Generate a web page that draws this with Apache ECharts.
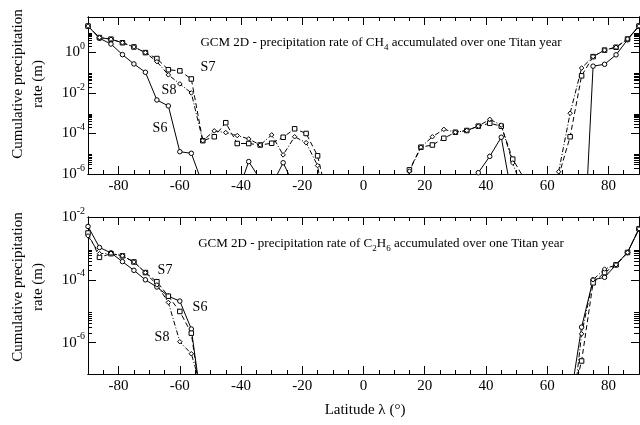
<!DOCTYPE html>
<html>
<head>
<meta charset="utf-8">
<script src="https://cdn.jsdelivr.net/npm/echarts@6/dist/echarts.min.js"></script>
<style>html,body{margin:0;padding:0;background:#fff}#chart{width:640px;height:425px}</style>
</head>
<body>
<div id="chart"></div>
<script>
// latitude grid of the GCM (deg)
var lat = [-90, -86.25, -82.5, -78.75, -75, -71.25, -67.5, -63.75, -60, -56.25,
    -52.5, -48.75, -45, -41.25, -37.5, -33.75, -30, -26.25, -22.5, -18.75,
    -15, -11.25, -7.5, -3.75, 0, 3.75, 7.5, 11.25, 15, 18.75,
    22.5, 26.25, 30, 33.75, 37.5, 41.25, 45, 48.75, 52.5, 56.25,
    60, 63.75, 67.5, 71.25, 75, 78.75, 82.5, 86.25, 90];

// CH4 cumulative precipitation (m), null = no precipitation
var s6Ch4 = [20, 5.0, 2.6, 0.78, 0.27, 0.105, 4.5e-3, 2.3e-3, 1.26e-5, 1.05e-5,
    2.9e-7, null, null, 1e-7, 4.1e-6, 5.4e-7, 2.7e-7, 3.6e-6, 2.3e-7, null,
    null, null, null, null, null, null, null, null, null, null,
    null, null, null, null, 1.16e-6, 7.4e-6, 6.5e-5, 4.7e-8, null, null,
    null, null, null, 1e-12, 0.21, 0.26, 0.76, 4.2, 20];
var s7Ch4 = [20, 5.4, 4.5, 3.0, 1.86, 0.98, 0.50, 0.14, 0.123, 0.049,
    4.4e-5, 6.9e-5, 3.4e-4, 3.2e-5, 3.2e-5, 2.7e-5, 3.3e-5, 6.5e-5, 1.7e-4, 1.0e-4,
    7.9e-6, 3e-8, null, null, null, null, null, 1e-9, 1.6e-6, 2.1e-5,
    2.7e-5, 5.8e-5, 1.15e-4, 1.4e-4, 2.3e-4, 3.2e-4, 2.3e-4, 5.4e-6, 5.9e-7, null,
    null, 8e-7, 6.9e-5, 0.07, 0.62, 1.3, 1.8, 4.6, 20];
var s8Ch4 = [20, 5.4, 4.5, 3.0, 1.86, 0.98, 0.35, 0.078, 0.028, 0.010,
    4.4e-5, 1.35e-4, 1.1e-4, 7.9e-5, 5.4e-5, 2.7e-5, 8.5e-5, 8.8e-6, 6.9e-5, 3.5e-5,
    2.6e-6, 1e-9, null, null, null, null, null, 1e-9, 1.4e-6, 2.1e-5,
    6.9e-5, 1.6e-4, 1.15e-4, 1.4e-4, 2.3e-4, 5e-4, 2.6e-4, 3.5e-6, 1e-7, null,
    null, 1.3e-6, 1e-3, 0.17, 0.62, 1.3, 1.8, 4.6, 20];

// C2H6 cumulative precipitation (m)
var s6C2h6 = [5.0e-3, 1.07e-3, 7.2e-4, 3.8e-4, 2.0e-4, 1.0e-4, 5.9e-5, 3.0e-5, 2.1e-5, 2.7e-6,
    5.7e-9, null, null, null, null, null, null, null, null, null,
    null, null, null, null, null, null, null, null, null, null,
    null, null, null, null, null, null, null, null, null, null,
    null, null, 1.4e-8, 3.1e-6, 1.0e-4, 1.2e-4, 3.0e-4, 7.4e-4, 4.2e-3];
var s7C2h6 = [3.1e-3, 5.2e-4, 6.8e-4, 5.8e-4, 3.7e-4, 1.7e-4, 8.7e-5, 3.0e-5, 9.8e-6, 2.0e-6,
    5e-9, null, null, null, null, null, null, null, null, null,
    null, null, null, null, null, null, null, null, null, null,
    null, null, null, null, null, null, null, null, null, null,
    null, null, 8e-9, 2.6e-7, 8e-5, 1.7e-4, 3.0e-4, 7.4e-4, 4.2e-3];
var s8C2h6 = [2.5e-3, 6.8e-4, 7.0e-4, 5.8e-4, 3.7e-4, 1.7e-4, 6.9e-5, 1.9e-5, 1.07e-6, 4.4e-7,
    2.5e-8, null, null, null, null, null, null, null, null, null,
    null, null, null, null, null, null, null, null, null, null,
    null, null, null, null, null, null, null, null, null, null,
    null, null, 1e-9, 1.9e-6, 1.0e-4, 2.2e-4, 3.0e-4, 7.4e-4, 4.2e-3];

// ticks
var latTicks = [-80, -60, -40, -20, 0, 20, 40, 60, 80];
var ch4Ticks = [1e-6, 1e-4, 1e-2, 1];
var c2h6Ticks = [1e-6, 1e-4, 1e-2];
var ch4Minor = [2e-6, 3e-6, 4e-6, 5e-6, 6e-6, 7e-6, 8e-6, 9e-6,
    2e-4, 3e-4, 4e-4, 5e-4, 6e-4, 7e-4, 8e-4, 9e-4,
    2e-2, 3e-2, 4e-2, 5e-2, 6e-2, 7e-2, 8e-2, 9e-2,
    2, 3, 4, 5, 6, 7, 8, 9];
var c2h6Minor = [2e-6, 3e-6, 4e-6, 5e-6, 6e-6, 7e-6, 8e-6, 9e-6,
    2e-4, 3e-4, 4e-4, 5e-4, 6e-4, 7e-4, 8e-4, 9e-4];

var FONT = 'Liberation Serif';
var dom = document.getElementById('chart');
var myChart = echarts.init(dom);

function pairs(vals) {
    return lat.map(function (x, i) { return [x, vals[i]]; });
}

function xAxes(g) {
    var base = {
        gridIndex: g, type: 'value', min: -90, max: 90,
        splitLine: { show: false },
        axisLine: { onZero: false, lineStyle: { color: '#000', width: 1 } },
        axisLabel: { show: false }
    };
    var minorBottom = echarts.util.merge({
        position: 'bottom', interval: 5,
        axisTick: { inside: true, length: 4, lineStyle: { color: '#000' } },
        axisLabel: { show: true, customValues: latTicks, margin: 5, color: '#000',
            fontFamily: FONT, fontSize: 15 }
    }, base);
    var majorBottom = echarts.util.merge({
        position: 'bottom',
        axisTick: { inside: true, length: 8, customValues: latTicks, lineStyle: { color: '#000' } }
    }, base);
    var minorTop = echarts.util.merge({
        position: 'top', interval: 5,
        axisTick: { inside: true, length: 4, lineStyle: { color: '#000' } }
    }, base);
    var majorTop = echarts.util.merge({
        position: 'top',
        axisTick: { inside: true, length: 8, customValues: latTicks, lineStyle: { color: '#000' } }
    }, base);
    return [minorBottom, majorBottom, minorTop, majorTop];
}

function yAxes(g, min, max, ticks, minor) {
    var base = {
        gridIndex: g, type: 'log', logBase: 10, min: min, max: max,
        splitLine: { show: false },
        axisLine: { onZero: false, lineStyle: { color: '#000', width: 1 } },
        axisLabel: { show: false }
    };
    var leftMajor = echarts.util.merge({
        position: 'left',
        axisTick: { inside: true, length: 8, customValues: ticks, lineStyle: { color: '#000' } },
        axisLabel: {
            show: true, customValues: ticks, margin: 3, color: '#000',
            formatter: function (v) {
                return '{b|10}{s|' + Math.round(Math.log10(v)) + '}';
            },
            rich: {
                b: { fontFamily: FONT, fontSize: 15, lineHeight: 22, color: '#000' },
                s: { fontFamily: FONT, fontSize: 10, lineHeight: 10, verticalAlign: 'top', color: '#000' }
            }
        }
    }, base);
    var leftMinor = echarts.util.merge({
        position: 'left',
        axisTick: { inside: true, length: 4, customValues: minor, lineStyle: { color: '#000' } }
    }, base);
    var rightMajor = echarts.util.merge({
        position: 'right',
        axisTick: { inside: true, length: 8, customValues: ticks, lineStyle: { color: '#000' } }
    }, base);
    var rightMinor = echarts.util.merge({
        position: 'right',
        axisTick: { inside: true, length: 5, customValues: minor, lineStyle: { color: '#000' } }
    }, base);
    return [leftMajor, leftMinor, rightMajor, rightMinor];
}

function line(name, vals, g, symbol, dash) {
    return {
        name: name, type: 'line',
        xAxisIndex: g * 4, yAxisIndex: g * 4,
        data: pairs(vals),
        symbol: symbol, symbolSize: 4.5, showSymbol: true,
        connectNulls: false, clip: true,
        lineStyle: { color: '#000', width: 1, type: dash },
        itemStyle: { color: '#fff', borderColor: '#000', borderWidth: 1 }
    };
}

function panelTitle(y, species) {
    return {
        type: 'text', x: 381, y: y,
        style: {
            text: 'GCM 2D - precipitation rate of ' + species + ' accumulated over one Titan year',
            font: '13px "Liberation Serif"', fill: '#000', lineHeight: 19,
            align: 'center', verticalAlign: 'middle',
            rich: {
                sub: { fontFamily: FONT, fontSize: 9, lineHeight: 9, verticalAlign: 'bottom', fill: '#000' }
            }
        }
    };
}

function label(x, y, text) {
    return {
        type: 'text', x: x, y: y,
        style: { text: text, font: '14px "Liberation Serif"', fill: '#000', align: 'center', verticalAlign: 'middle' }
    };
}

function yTitle(y) {
    return {
        type: 'text', x: 28, y: y, rotation: Math.PI / 2,
        style: {
            text: 'Cumulative precipitation\nrate (m)', font: '15px "Liberation Serif"', fill: '#000',
            align: 'center', verticalAlign: 'middle', lineHeight: 20
        }
    };
}

var option = {
    backgroundColor: '#fff',
    animation: false,
    grid: [
        { left: 88, top: 17, width: 551, height: 157 },
        { left: 88, top: 217, width: 551, height: 157 }
    ],
    xAxis: xAxes(0).concat(xAxes(1)),
    yAxis: yAxes(0, 1e-6, 56, ch4Ticks, ch4Minor).concat(yAxes(1, 1e-7, 1e-2, c2h6Ticks, c2h6Minor)),
    series: [
        line('S6', s6Ch4, 0, 'circle', 'solid'),
        line('S7', s7Ch4, 0, 'rect', [5, 3]),
        line('S8', s8Ch4, 0, 'diamond', [5, 2, 1, 2]),
        line('S6', s6C2h6, 1, 'circle', 'solid'),
        line('S7', s7C2h6, 1, 'rect', [5, 3]),
        line('S8', s8C2h6, 1, 'diamond', [5, 2, 1, 2])
    ],
    graphic: [
        panelTitle(43, 'CH{sub|4}'),
        panelTitle(244, 'C{sub|2}H{sub|6}'),
        label(208, 67, 'S7'),
        label(169, 90, 'S8'),
        label(160, 128, 'S6'),
        label(165, 270, 'S7'),
        label(200, 307, 'S6'),
        label(162, 337, 'S8'),
        yTitle(84),
        yTitle(287),
        {
            type: 'text', x: 365, y: 410,
            style: { text: 'Latitude \u03bb (\u00b0)', font: '15px "Liberation Serif"', fill: '#000',
                align: 'center', verticalAlign: 'middle' }
        }
    ]
};

myChart.setOption(option, true);
</script>
</body>
</html>
